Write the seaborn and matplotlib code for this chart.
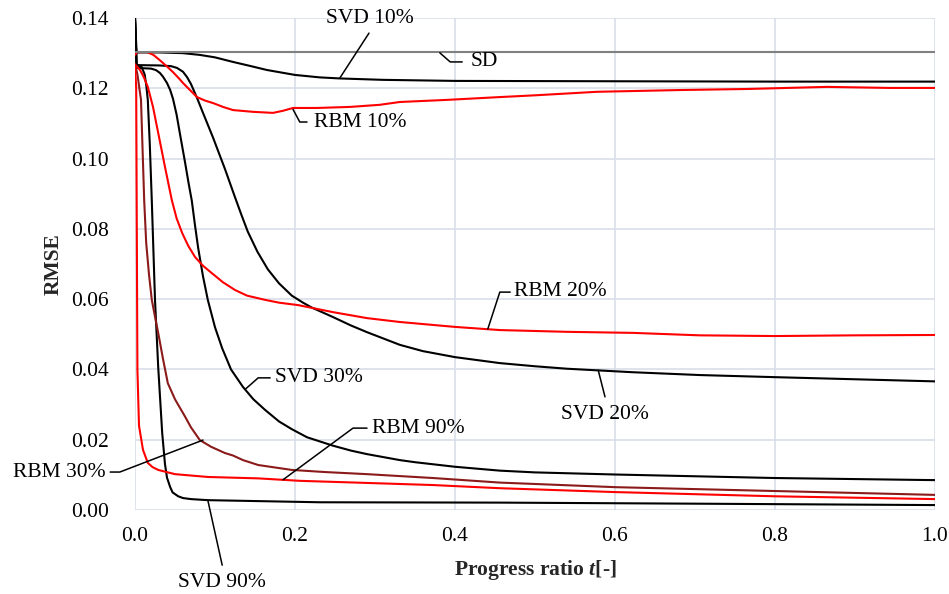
import matplotlib
matplotlib.use("Agg")
import matplotlib.pyplot as plt
import seaborn as sns
import pandas as pd

# ---------------- data ----------------
svd10_x = [0, 0.002, 0.03, 0.06, 0.081, 0.1, 0.1225, 0.145, 0.165, 0.2, 0.231, 0.256, 0.31, 0.4, 0.6, 0.8, 1.0]
svd10_y = [0.14, 0.1302, 0.1302, 0.1300, 0.1295, 0.1288, 0.1275, 0.1263, 0.1252, 0.1238, 0.1231, 0.1228, 0.1224, 0.1221,
           0.1220, 0.1219, 0.1219]

svd20_x = [0, 0.002, 0.03, 0.045, 0.0525, 0.06, 0.065, 0.07, 0.078, 0.085, 0.0975, 0.105, 0.1125, 0.125, 0.133,
           0.141, 0.153, 0.166, 0.18, 0.196, 0.21, 0.221, 0.2475, 0.27, 0.29, 0.331, 0.36, 0.4, 0.456, 0.5,
           0.54, 0.6225, 0.706, 0.8, 0.9, 1.0]
svd20_y = [0.14, 0.1266, 0.1265, 0.1263, 0.1258, 0.1247, 0.1232, 0.1212, 0.1170, 0.1130, 0.1060, 0.1015, 0.0970, 0.0890,
           0.0840, 0.0792, 0.0735, 0.0685, 0.0645, 0.0610, 0.0590, 0.0576, 0.0549, 0.0525, 0.0506, 0.0470, 0.0452,
           0.0435, 0.0418, 0.0409, 0.0402, 0.0392, 0.0384, 0.0378, 0.0372, 0.0366]

svd30_x = [0, 0.002, 0.02, 0.026, 0.031, 0.035, 0.04, 0.044, 0.0475, 0.052, 0.057, 0.0625, 0.067, 0.071, 0.075,
           0.079, 0.085, 0.091, 0.1, 0.109, 0.12, 0.135, 0.148, 0.1625, 0.18, 0.196, 0.215, 0.2475, 0.27,
           0.29, 0.331, 0.35, 0.4, 0.456, 0.5, 0.6, 0.7, 0.8, 0.9, 1.0]
svd30_y = [0.14, 0.1258, 0.1256, 0.1252, 0.1244, 0.1233, 0.1215, 0.1195, 0.1170, 0.1125, 0.1060, 0.0990, 0.0930, 0.0880,
           0.0810, 0.0745, 0.0665, 0.0598, 0.0520, 0.0460, 0.0400, 0.0350, 0.0315, 0.0285, 0.0252, 0.0230, 0.0207,
           0.0183, 0.0169, 0.0159, 0.0142, 0.0136, 0.0123, 0.0112, 0.0107, 0.0101, 0.0096, 0.0091, 0.0088, 0.0085]

svd90_x = [0, 0.002, 0.008, 0.012, 0.014, 0.016, 0.0185, 0.021, 0.025, 0.029, 0.034, 0.0375, 0.040, 0.044, 0.047,
           0.054, 0.06, 0.07, 0.091, 0.231, 0.456, 0.7, 1.0]
svd90_y = [0.14, 0.1265, 0.1262, 0.1240, 0.1210, 0.1167, 0.1040, 0.0880, 0.0598, 0.0407, 0.0219, 0.0130, 0.0092, 0.0065,
           0.0050, 0.0039, 0.0034, 0.0031, 0.0028, 0.0022, 0.0021, 0.0018, 0.0014]

sd_x = [0, 1.0]
sd_y = [0.1303, 0.1303]

rbm10_x = [0, 0.0025, 0.015, 0.023, 0.031, 0.04, 0.0475, 0.055, 0.06, 0.07, 0.0775, 0.0875, 0.0975, 0.11, 0.1225,
           0.1475, 0.1725, 0.185, 0.1975, 0.2275, 0.269, 0.306, 0.331, 0.39, 0.456, 0.5, 0.5775, 0.681, 0.765,
           0.865, 0.944, 1.0]
rbm10_y = [0.1295, 0.1303, 0.1303, 0.1295, 0.1280, 0.1262, 0.1246, 0.1228, 0.1215, 0.1192, 0.1175, 0.1165, 0.1158, 0.1147,
           0.1138, 0.1133, 0.1130, 0.1136, 0.1144, 0.1144, 0.1147, 0.1153, 0.1161, 0.1167, 0.1175, 0.1180, 0.1190,
           0.1195, 0.1198, 0.1204, 0.1201, 0.1201]

rbm20_x = [0, 0.00625, 0.011, 0.016, 0.0225, 0.029, 0.0375, 0.046, 0.052, 0.059, 0.0665, 0.075, 0.085, 0.096, 0.11,
           0.125, 0.14, 0.1625, 0.18, 0.204, 0.2475, 0.29, 0.331, 0.4, 0.456, 0.54, 0.6225, 0.706, 0.8, 0.9, 1.0]
rbm20_y = [0.1268, 0.1252, 0.1232, 0.1204, 0.1147, 0.1073, 0.0976, 0.0882, 0.0830, 0.0788, 0.0752, 0.0720, 0.0695, 0.0674,
           0.0648, 0.0626, 0.0610, 0.0598, 0.0590, 0.0583, 0.0563, 0.0546, 0.0535, 0.0521, 0.0512, 0.0507, 0.0504,
           0.0497, 0.0495, 0.0497, 0.0498]

rbm30_x = [0, 0.003, 0.0075, 0.0115, 0.014, 0.0175, 0.021, 0.025, 0.029, 0.035, 0.041, 0.05, 0.0625, 0.07, 0.081,
           0.095, 0.1125, 0.1225, 0.135, 0.154, 0.175, 0.196, 0.2375, 0.29, 0.3725, 0.456, 0.6, 0.8, 1.0]
rbm30_y = [0.1268, 0.1240, 0.1167, 0.0880, 0.0760, 0.0670, 0.0598, 0.0550, 0.0504, 0.0430, 0.0361, 0.0315, 0.0266, 0.0235,
           0.0199, 0.0180, 0.0162, 0.0155, 0.0142, 0.0128, 0.0121, 0.0114, 0.0108, 0.0102, 0.0091, 0.0078, 0.0065,
           0.0054, 0.0043]

rbm90_x = [0, 0.0015, 0.003, 0.005, 0.0065, 0.01, 0.016, 0.022, 0.029, 0.05, 0.091, 0.154, 0.206, 0.29, 0.3725,
           0.456, 0.6, 0.8, 1.0]
rbm90_y = [0.1268, 0.1200, 0.0400, 0.0240, 0.0219, 0.0171, 0.0134, 0.0122, 0.0114, 0.0102, 0.0094, 0.0090, 0.0083, 0.0077,
           0.0071, 0.0062, 0.0051, 0.0039, 0.0031]

x_ticks = [0.0, 0.2, 0.4, 0.6, 0.8, 1.0]
y_ticks = [0.00, 0.02, 0.04, 0.06, 0.08, 0.10, 0.12, 0.14]

series = [
    ("SVD 10%", svd10_x, svd10_y, "black"),
    ("SVD 20%", svd20_x, svd20_y, "black"),
    ("SVD 30%", svd30_x, svd30_y, "black"),
    ("SVD 90%", svd90_x, svd90_y, "black"),
    ("RBM 10%", rbm10_x, rbm10_y, "#FF0000"),
    ("RBM 20%", rbm20_x, rbm20_y, "#FF0000"),
    ("RBM 30%", rbm30_x, rbm30_y, "#8B1A1A"),
    ("RBM 90%", rbm90_x, rbm90_y, "#FF0000"),
    ("SD", sd_x, sd_y, "#808080"),
]

# ---------------- style ----------------
sns.set_theme(style="white")
plt.rcParams["font.family"] = ["Liberation Serif", "DejaVu Serif"]
plt.rcParams["mathtext.fontset"] = "custom"
plt.rcParams["mathtext.it"] = "Liberation Serif:italic:bold"
plt.rcParams["mathtext.rm"] = "Liberation Serif:bold"

fig = plt.figure(figsize=(9.49, 5.94), dpi=100)
ax = fig.add_axes([135 / 949, 1 - 510 / 594, 800 / 949, 492 / 594])

for name, xs, ys, col in series:
    df = pd.DataFrame({"t": xs, "rmse": ys})
    sns.lineplot(data=df, x="t", y="rmse", ax=ax, color=col, linewidth=1.5,
                 sort=False, estimator=None, zorder=3)

ax.set_xlim(0, 1.0)
ax.set_ylim(0, 0.14)
ax.set_xticks(x_ticks)
ax.set_yticks(y_ticks)
ax.set_xticklabels([f"{v:.1f}" for v in x_ticks])
ax.set_yticklabels([f"{v:.2f}" for v in y_ticks])
ax.tick_params(axis="both", length=0, labelsize=15.5, colors="black")
ax.tick_params(axis="y", pad=19)
ax.tick_params(axis="x", pad=12)
ax.grid(True, color="#D9DEE8", linewidth=1.2, zorder=0)
ax.set_axisbelow(True)
for s in ax.spines.values():
    s.set_visible(False)

ax.set_xlabel(r"Progress ratio $t$[-]", fontsize=15.5, fontweight="bold", labelpad=9)
ax.set_ylabel("RMSE", fontsize=15.5, fontweight="bold", labelpad=5)

# ---------------- leader-line labels ----------------
lab_fs = 15.5


def leader(pts, text, tx, ty, ha="left", va="center"):
    xs = [p[0] for p in pts]
    ys = [p[1] for p in pts]
    ax.plot(xs, ys, color="black", linewidth=1.1, clip_on=False, zorder=4)
    ax.text(tx, ty, text, ha=ha, va=va, fontsize=lab_fs, color="black", clip_on=False)


leader([(0.256, 0.1229), (0.2925, 0.1357)], "SVD 10%", 0.294, 0.1399, ha="center")
leader([(0.381, 0.1301), (0.394, 0.1275), (0.409, 0.1275)], "SD", 0.419, 0.1275)
leader([(0.1975, 0.1140), (0.206, 0.1104), (0.215, 0.1104)], "RBM 10%", 0.224, 0.1104)
leader([(0.441, 0.0515), (0.456, 0.062), (0.469, 0.062)], "RBM 20%", 0.474, 0.0622)
leader([(0.579, 0.0398), (0.5875, 0.0322)], "SVD 20%", 0.5875, 0.0272, ha="center")
leader([(0.1375, 0.0343), (0.154, 0.0376), (0.169, 0.0376)], "SVD 30%", 0.175, 0.0376)
leader([(0.185, 0.0086), (0.2725, 0.0233), (0.29, 0.0233)], "RBM 90%", 0.2965, 0.0232)
leader([(0.085, 0.0199), (-0.019, 0.0108), (-0.031, 0.0108)], "RBM 30%", -0.037, 0.0108, ha="right")
leader([(0.091, 0.0028), (0.109, -0.0157)], "SVD 90%", 0.109, -0.0205, ha="center")

fig.savefig("out.png", dpi=100)
